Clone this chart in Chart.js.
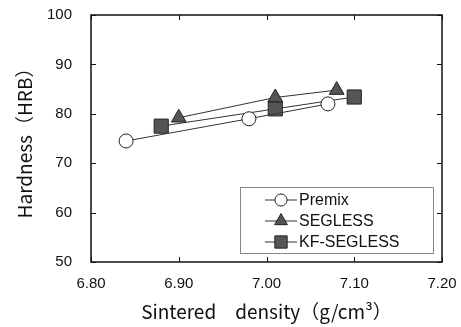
<!DOCTYPE html>
<html>
<head>
<meta charset="utf-8">
<script src="https://cdn.jsdelivr.net/npm/chart.js@4.4.1/dist/chart.umd.min.js"></script>
<style>
  html, body { margin: 0; padding: 0; background: #fff; }
  #wrap { width: 461px; height: 327px; }
</style>
</head>
<body>
<div id="wrap"><canvas id="c"></canvas></div>
<script>
// data
const seriesNames = ['Premix', 'SEGLESS', 'KF-SEGLESS'];
const premixX = [6.84, 6.98, 7.07];
const premixY = [74.5, 79, 82];
const seglessX = [6.90, 7.01, 7.08];
const seglessY = [79.2, 83.3, 84.8];
const kfX = [6.88, 7.01, 7.10];
const kfY = [77.5, 81, 83.4];
const xTicks = [6.8, 6.9, 7.0, 7.1, 7.2];
const yTicks = [50, 60, 70, 80, 90, 100];

const pts = (xs, ys) => xs.map((x, i) => ({ x: x, y: ys[i] }));

const tickFont = { family: 'Liberation Sans, Arial, sans-serif', size: 15 };
const titleFont = { family: '"Noto Sans CJK JP", sans-serif', size: 19 };

// frame + inward ticks on all 4 sides
const framePlugin = {
  id: 'frame',
  afterDraw(chart) {
    const { ctx, chartArea: a, scales } = chart;
    ctx.save();
    ctx.strokeStyle = '#111';
    ctx.lineWidth = 1.5;
    ctx.strokeRect(a.left, a.top, a.right - a.left, a.bottom - a.top);
    ctx.lineWidth = 1;
    const len = 5;
    ctx.beginPath();
    xTicks.forEach(v => {
      const px = Math.round(scales.x.getPixelForValue(v)) + 0.5;
      ctx.moveTo(px, a.bottom); ctx.lineTo(px, a.bottom - len);
      ctx.moveTo(px, a.top); ctx.lineTo(px, a.top + len);
    });
    yTicks.forEach(v => {
      const py = Math.round(scales.y.getPixelForValue(v)) + 0.5;
      ctx.moveTo(a.left, py); ctx.lineTo(a.left + len, py);
      ctx.moveTo(a.right, py); ctx.lineTo(a.right - len, py);
    });
    ctx.stroke();
    ctx.restore();
  }
};

// legend box inside the plot, line through the marker
const legendPlugin = {
  id: 'boxLegend',
  afterDraw(chart) {
    const { ctx, chartArea: a } = chart;
    const w = 193, h = 66;
    const x0 = a.right - 9 - w, y0 = a.bottom - 9 - h;
    ctx.save();
    ctx.fillStyle = '#fff';
    ctx.fillRect(x0, y0, w, h);
    ctx.strokeStyle = '#888';
    ctx.lineWidth = 1;
    ctx.strokeRect(x0 + 0.5, y0 + 0.5, w, h);
    chart.data.datasets.forEach((ds, i) => {
      const cy = y0 + 13 + i * 21;
      const cx = x0 + 41;
      ctx.strokeStyle = ds.borderColor;
      ctx.lineWidth = 1;
      ctx.beginPath();
      ctx.moveTo(x0 + 25, cy); ctx.lineTo(x0 + 57, cy);
      ctx.stroke();
      ctx.fillStyle = ds.pointBackgroundColor;
      ctx.strokeStyle = ds.pointBorderColor;
      ctx.lineWidth = 1;
      Chart.helpers.drawPoint(ctx, { pointStyle: ds.pointStyle, radius: ds.pointRadius * 0.87, borderWidth: 1 }, cx, cy);
      ctx.fillStyle = '#111';
      ctx.font = '16px "Liberation Sans", Arial, sans-serif';
      ctx.textBaseline = 'middle';
      ctx.fillText(ds.label, x0 + 59, cy + 1);
    });
    ctx.restore();
  }
};

const common = {
  showLine: true,
  borderColor: '#333',
  borderWidth: 1,
  pointBorderColor: '#222',
  pointBorderWidth: 1,
  tension: 0
};

new Chart(document.getElementById('c'), {
  type: 'scatter',
  data: {
    datasets: [
      Object.assign({}, common, { label: seriesNames[0], data: pts(premixX, premixY), pointStyle: 'circle', pointRadius: 7, pointBackgroundColor: '#fff' }),
      Object.assign({}, common, { label: seriesNames[1], data: pts(seglessX, seglessY), pointStyle: 'triangle', pointRadius: 8.5, pointBackgroundColor: '#555' }),
      Object.assign({}, common, { label: seriesNames[2], data: pts(kfX, kfY), pointStyle: 'rect', pointRadius: 10, pointBackgroundColor: '#555' })
    ]
  },
  options: {
    responsive: true,
    maintainAspectRatio: false,
    animation: false,
    layout: { padding: { left: 0, top: 15, right: 19, bottom: 0 } },
    plugins: { legend: { display: false }, tooltip: { enabled: false } },
    scales: {
      x: {
        type: 'linear',
        min: 6.8, max: 7.2,
        afterBuildTicks: s => { s.ticks = xTicks.map(v => ({ value: v })); },
        afterFit: s => { s.height = 65; s.paddingLeft = 0; s.paddingRight = 0; },
        grid: { display: false, drawTicks: false },
        border: { display: false },
        ticks: { color: '#111', font: tickFont, padding: 13, maxRotation: 0, callback: v => Number(v).toFixed(2) },
        title: { display: true, text: 'Sintered\u3000density（g/cm³）', color: '#111', font: titleFont, padding: { top: 4, bottom: 4 } }
      },
      y: {
        type: 'linear',
        min: 50, max: 100,
        afterBuildTicks: s => { s.ticks = yTicks.map(v => ({ value: v })); },
        afterFit: s => { s.width = 91; s.paddingTop = 0; s.paddingBottom = 0; },
        grid: { display: false, drawTicks: false },
        border: { display: false },
        ticks: { color: '#111', font: tickFont, padding: 19 },
        title: { display: true, text: 'Hardness（HRB）', color: '#111', font: titleFont, padding: { top: 13, bottom: 4 } }
      }
    }
  },
  plugins: [framePlugin, legendPlugin]
});
</script>
</body>
</html>
